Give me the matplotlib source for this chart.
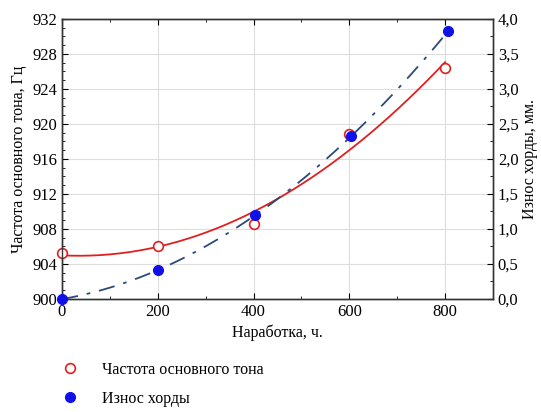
import numpy as np
import matplotlib
matplotlib.use('Agg')
import matplotlib.pyplot as plt
from matplotlib.lines import Line2D
from matplotlib.ticker import MultipleLocator, FuncFormatter

plt.rcParams['font.family'] = ['Liberation Serif', 'DejaVu Serif']

# data
hours_freq = [0, 200, 400, 600, 800]
freq_hz = [905.2, 906.0, 908.6, 918.8, 926.4]
hours_wear = [0, 200, 404, 604, 807]
wear_mm = [0.0, 0.41, 1.20, 2.33, 3.83]

red = '#e02020'
blue = '#1010e8'
dash_col = '#2a4a78'

fig = plt.figure(figsize=(5.41, 4.12), dpi=100)
ax = fig.add_axes([0.1146, 0.2743, 0.7967, 0.6796])
ax2 = ax.twinx()

# fitted trend curves (2nd order)
xs = np.linspace(0, 800, 200)
pf = np.polyfit(hours_freq, freq_hz, 2)
ax.plot(xs, np.polyval(pf, xs), color=red, lw=1.3, zorder=3)
xs2 = np.linspace(0, 807, 200)
pw = np.polyfit(hours_wear, wear_mm, 2)
ax2.plot(xs2, np.polyval(pw, xs2), color=dash_col, lw=1.3,
         dashes=(9, 5, 2, 5), zorder=3)

ax.plot(hours_freq, freq_hz, 'o', ms=7, mfc='white', mec=red, mew=1.2,
        clip_on=False, zorder=4)
ax2.plot(hours_wear, wear_mm, 'o', ms=7, color=blue, clip_on=False, zorder=4)

ax.set_xlim(0, 900)
ax.set_ylim(900, 932)
ax2.set_ylim(0, 4)
ax.xaxis.set_major_locator(MultipleLocator(200))
ax.xaxis.set_minor_locator(MultipleLocator(100))
ax.yaxis.set_major_locator(MultipleLocator(4))
ax.yaxis.set_minor_locator(MultipleLocator(1))
ax2.yaxis.set_major_locator(MultipleLocator(0.5))
ax2.yaxis.set_minor_locator(MultipleLocator(0.25))
ax2.yaxis.set_major_formatter(FuncFormatter(lambda v, p: f'{v:.1f}'.replace('.', ',')))

ax.grid(True, color='#dddddd', lw=0.8)
ax.set_axisbelow(True)
for a in (ax, ax2):
    a.tick_params(which='both', direction='in', labelsize=12, top=True)
    a.tick_params(which='major', length=4)
    a.tick_params(which='minor', length=2)
    for s in a.spines.values():
        s.set_linewidth(1.0)
        s.set_color('#333333')

ax.set_xlabel('Наработка, ч.', fontsize=11.5, labelpad=3)
ax.set_ylabel('Частота основного тона, Гц', fontsize=11.5, labelpad=4)
ax2.set_ylabel('Износ хорды, мм.', fontsize=11.5, labelpad=2)

handles = [
    Line2D([], [], ls='none', marker='o', ms=7, mfc='white', mec=red, mew=1.2),
    Line2D([], [], ls='none', marker='o', ms=7, color=blue),
]
fig.legend(handles, ['Частота основного тона', 'Износ хорды'],
           loc='lower left', bbox_to_anchor=(0.085, -0.022), frameon=False,
           fontsize=11.5, handlelength=1.2, handletextpad=1.4, labelspacing=0.8)

fig.savefig('out.png', dpi=100)
